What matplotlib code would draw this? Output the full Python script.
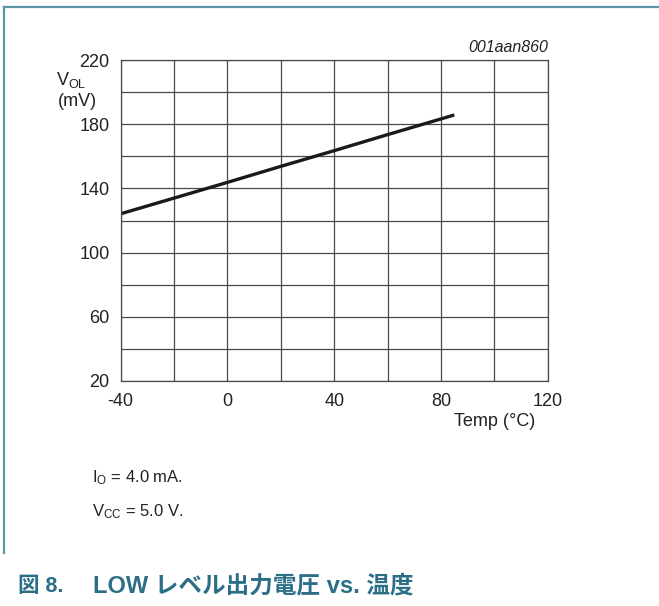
import matplotlib.pyplot as plt
import numpy as np

plt.rcParams['font.family'] = ['Liberation Sans', 'DejaVu Sans']
plt.rcParams['mathtext.fontset'] = 'custom'
plt.rcParams['mathtext.rm'] = 'Liberation Sans'
plt.rcParams['axes.unicode_minus'] = False

# VOL vs temperature at IO = 4.0 mA
temp = [-40, -20, 0, 20, 40, 60, 80, 85]
vol = [124.2, 134.0, 143.8, 153.8, 163.6, 173.6, 183.4, 185.9]

x_ticks = [-40, 0, 40, 80, 120]
y_ticks = [20, 60, 100, 140, 180, 220]

W, H = 659, 606
teal = '#2b6f87'
txt_c = '#222222'
grid_c = '#4a4a4a'


def fx(x):
    return x / W


def fy(y):
    return 1 - y / H


fig = plt.figure(figsize=(W / 100, H / 100), dpi=100)

# frame lines on top and left
fig.add_artist(plt.Line2D([fx(3.5), 1], [fy(6.5), fy(6.5)], color='#5f95a8', lw=1.6))
fig.add_artist(plt.Line2D([fx(3.5), fx(3.5)], [fy(6.5), fy(553)], color='#5f95a8', lw=1.6))

ax = fig.add_axes([fx(120.7), fy(380.7), (547.7 - 120.7) / W, (380.7 - 60.3) / H])
ax.plot(temp, vol, color='#1a1a1a', lw=2.4, solid_capstyle='butt')

ax.set_xlim(-40, 120)
ax.set_ylim(20, 220)
ax.set_xticks(x_ticks)
ax.set_yticks(y_ticks)
ax.set_xticks(np.arange(-40, 121, 20), minor=True)
ax.set_yticks(np.arange(20, 221, 20), minor=True)
ax.grid(which='both', color=grid_c, lw=0.9)
ax.tick_params(which='both', length=0, labelsize=13, colors=txt_c)
ax.tick_params(axis='y', pad=8)
ax.tick_params(axis='x', pad=9)
for s in ax.spines.values():
    s.set_color(grid_c)
    s.set_linewidth(0.9)

fig.text(fx(71), fy(80), r'$\mathregular{V_{OL}}$', ha='center', va='center', fontsize=13, color=txt_c)
fig.text(fx(77), fy(101), '(mV)', ha='center', va='center', fontsize=13, color=txt_c)
fig.text(fx(548), fy(48), '001aan860', ha='right', va='center', fontsize=11.5, style='italic', color=txt_c)
fig.text(fx(535), fy(422), 'Temp (\u00b0C)', ha='right', va='center', fontsize=13, color=txt_c)

fig.text(fx(92), fy(478), r'$\mathregular{I_{O}}$ = 4.0 mA.', ha='left', va='center', fontsize=12, color=txt_c)
fig.text(fx(92), fy(512), r'$\mathregular{V_{CC}}$ = 5.0 V.', ha='left', va='center', fontsize=12, color=txt_c)

title_font = ['Liberation Sans', 'Noto Sans CJK JP']
fig.text(fx(18), fy(586), '図 8.', ha='left', va='center', fontsize=15.5, fontweight='bold',
         color=teal, family=title_font)
fig.text(fx(93), fy(586), 'LOW レベル出力電圧 vs. 温度', ha='left', va='center', fontsize=17,
         fontweight='bold', color=teal, family=title_font)

fig.savefig('out.png', dpi=100)
